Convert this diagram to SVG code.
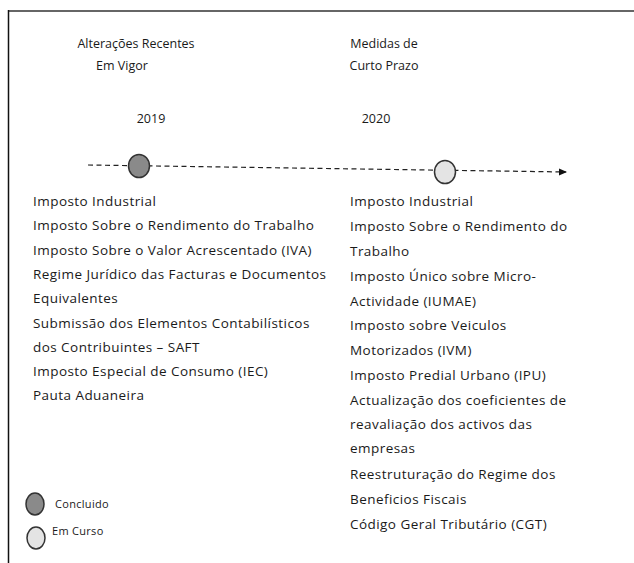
<svg xmlns="http://www.w3.org/2000/svg" width="634" height="563" viewBox="0 0 634 563">
<defs>
<marker id="arr" markerWidth="8" markerHeight="8" refX="7" refY="4" orient="auto" markerUnits="userSpaceOnUse">
<path d="M0,0.5 L8,4 L0,7.5 Z" fill="#111"/>
</marker>
</defs>
<style>
text{font-family:"Open Sans","Noto Sans","DejaVu Sans",sans-serif;fill:#1a1a1a;}
.h{font-size:12.5px;text-anchor:middle;}
.l{font-size:13.5px;letter-spacing:0.45px;}
.lg{font-size:11px;letter-spacing:0.3px;}
.done{fill:#8a8a8a;stroke:#333;stroke-width:1.5;}
.cur{fill:#e4e4e4;stroke:#333;stroke-width:1.5;}
</style>
<rect width="634" height="563" fill="#fff"/>
<g id="frame">
<line x1="8" y1="11" x2="634" y2="11" stroke="#666" stroke-width="2"/>
<line x1="8.5" y1="10" x2="8.5" y2="563" stroke="#111" stroke-width="1.5"/>
</g>
<g id="connectors">
<line x1="88" y1="165" x2="566" y2="172" stroke="#222" stroke-width="1.2" stroke-dasharray="5,3.5" marker-end="url(#arr)"/>
</g>
<g id="node-2019">
<text class="h" x="136" y="48">Alterações Recentes</text>
<text class="h" x="122" y="70">Em Vigor</text>
<text class="h" x="151" y="123">2019</text>
<ellipse class="done" cx="139" cy="166" rx="10.5" ry="11.5"/>
<text class="l" x="33" y="206">Imposto Industrial</text>
<text class="l" x="33" y="230">Imposto Sobre o Rendimento do Trabalho</text>
<text class="l" x="33" y="255">Imposto Sobre o Valor Acrescentado (IVA)</text>
<text class="l" x="33" y="279">Regime Jurídico das Facturas e Documentos</text>
<text class="l" x="33" y="303">Equivalentes</text>
<text class="l" x="33" y="328">Submissão dos Elementos Contabilísticos</text>
<text class="l" x="33" y="352">dos Contribuintes – SAFT</text>
<text class="l" x="33" y="376">Imposto Especial de Consumo (IEC)</text>
<text class="l" x="33" y="400">Pauta Aduaneira</text>
</g>
<g id="node-2020">
<text class="h" x="384" y="48">Medidas de</text>
<text class="h" x="384" y="70">Curto Prazo</text>
<text class="h" x="376" y="123">2020</text>
<ellipse class="cur" cx="445" cy="172" rx="10.5" ry="11.5"/>
<text class="l" x="350" y="206">Imposto Industrial</text>
<text class="l" x="350" y="231">Imposto Sobre o Rendimento do</text>
<text class="l" x="350" y="256">Trabalho</text>
<text class="l" x="350" y="281">Imposto Único sobre Micro-</text>
<text class="l" x="350" y="306">Actividade (IUMAE)</text>
<text class="l" x="350" y="330">Imposto sobre Veiculos</text>
<text class="l" x="350" y="355">Motorizados (IVM)</text>
<text class="l" x="350" y="380">Imposto Predial Urbano (IPU)</text>
<text class="l" x="350" y="405">Actualização dos coeficientes de</text>
<text class="l" x="350" y="429">reavaliação dos activos das</text>
<text class="l" x="350" y="453">empresas</text>
<text class="l" x="350" y="479">Reestruturação do Regime dos</text>
<text class="l" x="350" y="504">Beneficios Fiscais</text>
<text class="l" x="350" y="529">Código Geral Tributário (CGT)</text>
</g>
<g id="legend">
<ellipse class="done" cx="35" cy="504" rx="9" ry="11"/>
<text class="lg" x="55" y="508">Concluido</text>
<ellipse class="cur" cx="36" cy="538" rx="9" ry="11"/>
<text class="lg" x="52" y="535">Em Curso</text>
</g>
</svg>
